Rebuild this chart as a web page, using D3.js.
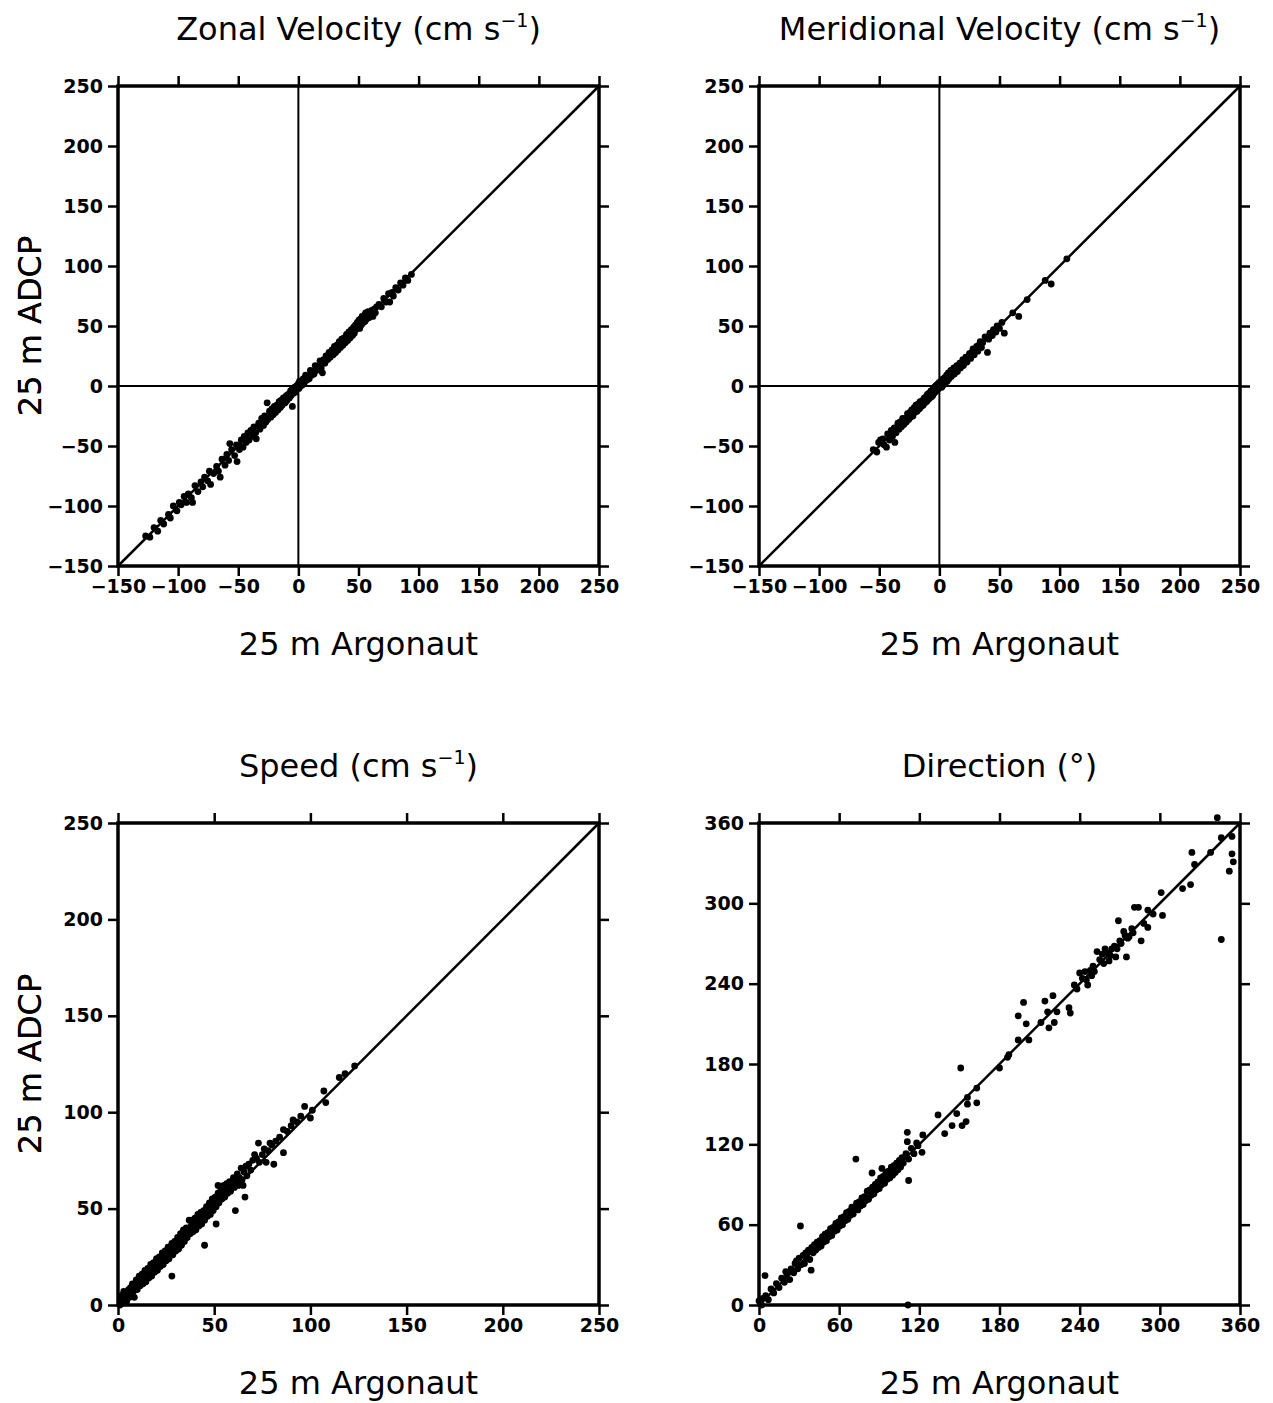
<!DOCTYPE html>
<html>
<head>
<meta charset="utf-8">
<script src="https://cdn.jsdelivr.net/npm/d3@7"></script>
<style>
    body { margin: 0; background: #fff; }
    text { font-family: "DejaVu Sans", sans-serif; fill: #000; }
    .tick text { font-weight: bold; font-size: 19px; }
    .tick line { stroke: #000; stroke-width: 2.5; }
</style>
</head>
<body>
<script>

// tick values for each kind of axis
var velTicks = [-150, -100, -50, 0, 50, 100, 150, 200, 250];
var speedTicks = [0, 50, 100, 150, 200, 250];
var dirTicks = [0, 60, 120, 180, 240, 300, 360];

// points as [25 m Argonaut, 25 m ADCP]
var zonalPts = [[-127,-125],[-123.5,-126],[-120,-118],[-117,-121],[-114.5,-112],[-112,-115],[-108,-107],
    [-106.5,-110],[-104,-100],[-101,-104],[-99,-97],[-97.5,-99],[-95,-92],[-93,-97],[-91.5,-90],[-89,-93],
    [-88,-97],[-86,-83],[-83.5,-88],[-81,-80],[-79.5,-84],[-78,-76],[-75.5,-79],[-74,-71],[-73,-82],
    [-70.5,-73],[-68,-67],[-66.5,-71],[-65,-76],[-63.5,-61],[-61,-66],[-59.5,-57],[-58,-62],[-57,-48],
    [-55.5,-53],[-53,-58],[-51.5,-49],[-51,-63],[-49,-53],[-47.5,-45],[-46,-51],[-45,-42],[-43.5,-47],
    [-42,-39],[-41,-45],[-39.5,-37],[-38,-42],[-37,-34],[-35.5,-39],[-35,-44],[-33,-31],[-32,-36],[-30.5,-27],
    [-29,-33],[-28,-25],[-27,-30],[-26,-14],[-25.5,-28],[-24,-21],[-23,-26],[-22,-19],[-21,-24],[-20,-17],
    [-19,-22],[-18,-16],[-17,-20],[-16,-13],[-15,-18],[-14.5,-12],[-13.5,-16],[-12.5,-10],[-11,-14],[-10,-8],
    [-9.5,-12],[-8.5,-7],[-7.5,-10],[-6.5,-4],[-6,-8],[-5,-17],[-5,-2],[-4,-6],[-3,-1],[-2.5,-5],[-1.5,0],
    [-1,-2],[0,2],[0.5,-2],[1,4],[2,0],[2.5,3],[3.5,1],[4,6],[5,3],[6,9],[7,5],[8,8],[9,6],[10,13],[11,9],
    [12,12],[13,10],[14,17],[15,13],[16,16],[17,14],[18,21],[19,15],[20,11],[21,22],[22,19],[23,25],
    [24.5,22],[25.5,28],[26.5,24],[28,30],[29,26],[30,33],[31,28],[32,34],[33,30],[34,37],[35,32],[36,39],
    [37,34],[38,40],[39,36],[40,43],[41,38],[42,45],[43,40],[44,47],[45,42],[46,49],[46.5,44],[47.5,51],
    [48,47],[49,53],[49.5,50],[50.5,55],[51,48],[52,56],[52.5,51],[53,58],[54,53],[55,59],[55.5,54],[56,61],
    [57,56],[58,62],[59,57],[60,60],[61,63],[62,58],[63,64],[64,61],[65,66],[67,68],[69,66],[71,73],[73,70],
    [75,77],[76,70],[78,78],[79,75],[81,82],[83,80],[85,86],[87,84],[89,90],[91,88],[94,93]];

var meridionalPts = [[-55,-53],[-52,-55],[-50.5,-47],[-49,-45],[-47,-44],[-46,-49],[-44,-51],[-43,-40],
    [-41.5,-45],[-40,-37],[-39,-42],[-37.5,-35],[-37,-47],[-36,-39],[-34.5,-31],[-33.5,-36],[-32.5,-30],
    [-31.5,-34],[-30.5,-27],[-29.5,-32],[-28.5,-27],[-27.5,-30],[-26.5,-23],[-25.5,-28],[-24.5,-22],[-24,-26],
    [-23,-20],[-22,-25],[-21,-18],[-20.5,-22],[-19.5,-16],[-18.5,-21],[-17.5,-15],[-16.5,-19],[-16,-13],
    [-15,-17],[-14,-12],[-13.5,-16],[-12.5,-10],[-12,-14],[-11,-9],[-10.5,-13],[-10,-7],[-9,-11],[-8.5,-6],
    [-8,-10],[-7,-4],[-6.5,-9],[-6,-5],[-5.5,-8],[-5,-2],[-4.5,-6],[-4,-1],[-3.5,-5],[-3,0],[-2.5,-4],[-2,1],
    [-1.5,-3],[-1,2],[-0.5,-2],[0,3],[0.5,-1],[1,1],[1.5,4],[2,-1],[2.5,2],[3,6],[3.5,1],[4,4],[4.5,7],[5,3],
    [5.5,6],[6,9],[6.5,4],[7,8],[7.5,11],[8,6],[9,10],[9.5,13],[10,8],[11,12],[12,15],[12.5,10],[13.5,14],
    [14.5,17],[15,12],[16,16],[17,19],[17.5,15],[18.5,18],[19.5,22],[20,17],[21,21],[22,24],[23,20],[24,24],
    [25,27],[26,23],[27,28],[28,31],[29,26],[30,30],[31,33],[32,29],[33,34],[34,37],[35,32],[36,36],[38,41],
    [40,28],[41,39],[42,44],[44,42],[45,47],[47,45],[48,50],[50,48],[52,53],[54,44],[61,61],[66,58],[73,72],
    [88,88],[93,85],[106,106]];

var speedPts = [[1,0],[1.5,3],[2,5],[2.5,1],[3,7],[3.5,3],[4,6],[4.5,2],[5,5],[5.5,8],[6,4],[6.5,9],[7,6],
    [7.5,11],[8,7],[8.5,4],[9,10],[9.5,13],[10,8],[10.5,12],[11,15],[11.5,10],[12,13],[12.5,16],[13,11],
    [13.5,14],[14,18],[14.5,12],[15,16],[15.5,19],[16,14],[16.5,17],[17,21],[17.5,15],[18,19],[18.5,22],
    [19,17],[19.5,21],[20,24],[20.5,18],[21,22],[21.5,25],[22,20],[22.5,24],[23,27],[23.5,21],[24,25],
    [24.5,28],[25,23],[25.5,27],[26,30],[26.5,24],[27,29],[28,15],[28,32],[28.5,26],[29,30],[29.5,33],[30,28],
    [30.5,32],[31,35],[31.5,29],[32,34],[32.5,37],[33,31],[33.5,36],[34,39],[34.5,33],[35,37],[35.5,40],
    [36,35],[36.5,39],[37,44],[37.5,37],[38,41],[38.5,44],[39,38],[39.5,42],[40,45],[40.5,39],[41,44],
    [41.5,47],[42,41],[42.5,45],[43,48],[43.5,42],[44,46],[44.5,49],[45,31],[45,44],[45.5,48],[46,51],
    [46.5,46],[47,50],[47.5,53],[48,47],[48.5,51],[49,55],[49.5,49],[50,53],[50.5,56],[51,42],[51,51],
    [51.5,55],[52,62],[52,58],[52.5,53],[53,57],[53.5,60],[54,55],[54.5,58],[55,62],[55.5,56],[56,60],
    [56.5,63],[57,58],[57.5,61],[58,64],[58.5,59],[59,62],[60,66],[60.5,61],[61,49],[61.5,64],[62,68],
    [62.5,62],[63,66],[64,71],[64.5,65],[65,62],[65.5,69],[66,56],[66.5,72],[67,67],[68,73],[69,70],[70,75],
    [71,78],[72,76],[73,84],[73.5,74],[75,78],[76,81],[77,74],[78,80],[79,84],[80,83],[81,73],[82,85],[84,87],
    [86,91],[86,79],[88,90],[90,93],[91,96],[93,95],[95,98],[97,103],[100,97],[101,101],[107,111],[108,105],
    [115,118],[118,120],[123,124]];

var directionPts = [[0,3],[2,0],[3,5],[4.5,22],[5,7],[7,4],[9,12],[11,9],[13,16],[15,13],[17,20],[19,17],
    [20,25],[21,23],[23,19],[24,27],[26,24],[27,31],[28,33],[29,27],[30,35],[31,59],[31.5,30],[33,37],[34,31],
    [35,39],[36,35],[37,41],[38,34],[39,26],[39.5,43],[40.5,39],[41.5,45],[42.5,41],[43.5,47],[44.5,43],
    [45.5,48],[46.5,44],[47.5,51],[48.5,47],[49.5,53],[50.5,48],[51.5,54],[52.5,51],[53.5,57],[54.5,52],
    [55.5,58],[56.5,55],[57.5,61],[58.5,56],[59.5,62],[60.5,59],[61.5,65],[62.5,60],[63.5,66],[64.5,63],
    [65.5,69],[66.5,64],[67.5,70],[68.5,67],[69.5,73],[70.5,68],[71.5,72],[72.5,109],[73,76],[74,71],[75,77],
    [76,74],[77,80],[78,75],[79,81],[80,78],[81,85],[82,79],[83,86],[84,82],[84.6,98.6],[85,88],[86,83],
    [87,90],[88,86],[89,92],[90,87],[91,95],[92,102],[92,90],[93,96],[94,91],[95,99],[96,94],[97,100],[98,95],
    [99,103],[100,97],[101,104],[102,99],[103,106],[104,101],[105,108],[106,103],[107,110],[108,106],
    [110,113],[111,129],[111,122],[111.5,0],[112,93],[112,109],[114,117],[116,113],[118,121],[119,119],
    [122,114],[122.6,127],[134,142],[139,128],[144.5,134],[148,143],[151,177],[152,134],[155,137],
    [156,155],[156,150],[163,151],[163,162],[180,177],[186,185],[187,187],[194,198],[194,216],[198,226],
    [200,210],[202,198],[211,211],[214,227],[216,219],[217,207],[220,231],[221,211],[223,219],[232,222],
    [233,218],[236,239],[238,236],[240,248],[242,244],[244,249],[245,243],[246,239],[248,250],[249,246],
    [250,253],[251,249],[253,264],[255,258],[257,262],[258,255],[259,266],[261,263],[262,257],[263,261],
    [264,266],[266,268],[267,260],[268,266],[269,287],[270,272],[271,270],[273,279],[274,276],[275,260],
    [276,274],[277,275],[279,281],[280,278],[281,297],[284,297],[286,272],[288,285],[291,282],[291,295],
    [295,292],[301,308],[302,291],[317,311],[323,314],[324,338],[326,329],[338,338],[343,364],[346,349],
    [346,273],[352,324],[354,350],[354,337],[355,331]];

var width = 481;

var svg = d3.select("body")
    .append("svg")
    .attr("width", 1273)
    .attr("height", 1403);

// one panel: frame, ticks on all four sides, 1:1 line and the dots
function drawPanel(opt) {
    var height = opt.height;

    var g = svg.append("g")
        .attr("transform", "translate(" + opt.left + "," + opt.top + ")");

    var x = d3.scaleLinear()
        .domain(opt.domain)
        .range([0, width]);

    var y = d3.scaleLinear()
        .domain(opt.domain)
        .range([height, 0]);

    // axes on all sides, only left and bottom get labels
    g.append("g")
        .attr("class", "x axis")
        .attr("transform", "translate(0," + height + ")")
        .call(d3.axisBottom(x).tickValues(opt.ticks).tickSize(10).tickPadding(4));

    g.append("g")
        .attr("class", "y axis")
        .call(d3.axisLeft(y).tickValues(opt.ticks).tickSize(10).tickPadding(5));

    g.append("g")
        .attr("class", "x axis")
        .call(d3.axisTop(x).tickValues(opt.ticks).tickSize(10).tickFormat(""));

    g.append("g")
        .attr("class", "y axis")
        .attr("transform", "translate(" + width + ",0)")
        .call(d3.axisRight(y).tickValues(opt.ticks).tickSize(10).tickFormat(""));

    g.selectAll(".domain").remove();

    // zero lines for the velocity components
    if (opt.zeroLines) {
        g.append("line")
            .attr("x1", x(0)).attr("x2", x(0))
            .attr("y1", 0).attr("y2", height)
            .attr("stroke", "#000").attr("stroke-width", 2);
        g.append("line")
            .attr("x1", 0).attr("x2", width)
            .attr("y1", y(0)).attr("y2", y(0))
            .attr("stroke", "#000").attr("stroke-width", 2);
    }

    // 1:1 line
    g.append("line")
        .attr("x1", x(opt.domain[0])).attr("y1", y(opt.domain[0]))
        .attr("x2", x(opt.domain[1])).attr("y2", y(opt.domain[1]))
        .attr("stroke", "#000").attr("stroke-width", 2.5);

    g.selectAll(".point")
        .data(opt.points)
        .enter()
        .append("circle")
        .attr("class", "point")
        .attr("cx", function(d) { return x(d[0]); })
        .attr("cy", function(d) { return y(d[1]); })
        .attr("r", 3.4)
        .attr("fill", "#000");

    // frame
    g.append("rect")
        .attr("width", width)
        .attr("height", height)
        .attr("fill", "none")
        .attr("stroke", "#000")
        .attr("stroke-width", 3.5);

    // title with superscript
    var title = g.append("text")
        .attr("x", width / 2)
        .attr("y", -46)
        .attr("text-anchor", "middle")
        .style("font-size", "32px")
        .text(opt.title);
    if (opt.unit) {
        title.append("tspan").text(" (cm s");
        title.append("tspan").attr("dy", -13).style("font-size", "19px").text("\u22121");
        title.append("tspan").attr("dy", 13).text(")");
    }

    g.append("text")
        .attr("x", width / 2)
        .attr("y", height + 89)
        .attr("text-anchor", "middle")
        .style("font-size", "32px")
        .text("25 m Argonaut");

    g.append("text")
        .attr("transform", "translate(" + (41 - opt.left) + "," + (height / 2) + ") rotate(-90)")
        .attr("text-anchor", "middle")
        .style("font-size", "32px")
        .text("25 m ADCP");
}

drawPanel({left: 118, top: 86, height: 480, domain: [-150, 250], ticks: velTicks,
    points: zonalPts, zeroLines: true, title: "Zonal Velocity", unit: true});
drawPanel({left: 759, top: 86, height: 480, domain: [-150, 250], ticks: velTicks,
    points: meridionalPts, zeroLines: true, title: "Meridional Velocity", unit: true});
drawPanel({left: 118, top: 823, height: 482, domain: [0, 250], ticks: speedTicks,
    points: speedPts, zeroLines: false, title: "Speed", unit: true});
drawPanel({left: 759, top: 823, height: 482, domain: [0, 360], ticks: dirTicks,
    points: directionPts, zeroLines: false, title: "Direction (\u00b0)", unit: false});

</script>
</body>
</html>
